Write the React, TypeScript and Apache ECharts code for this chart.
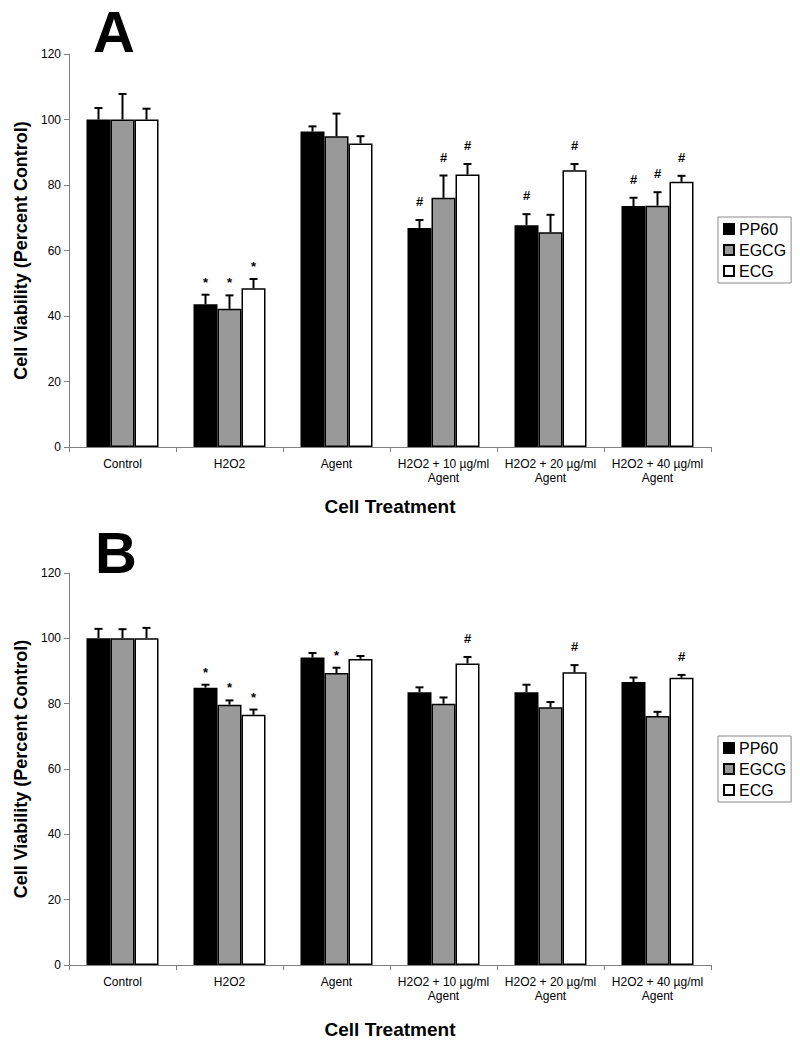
import React, { useEffect, useRef } from "react";
import * as echarts from "echarts";

const categories = [
  "Control",
  "H2O2",
  "Agent",
  "H2O2 + 10 µg/ml\nAgent",
  "H2O2 + 20 µg/ml\nAgent",
  "H2O2 + 40 µg/ml\nAgent",
];
const seriesNames = ["PP60", "EGCG", "ECG"];
const yTicks = [0, 20, 40, 60, 80, 100, 120];

// Panel A
const aPP60 = [100, 43.6, 96.3, 66.9, 67.7, 73.6];
const aPP60Err = [3.5, 2.9, 1.6, 2.4, 3.4, 2.5];
const aPP60Marks = ["", "*", "", "#", "#", "#"];
const aEGCG = [100, 42.2, 94.9, 76.1, 65.6, 73.7];
const aEGCGErr = [7.8, 4.1, 6.9, 6.8, 5.3, 4.1];
const aEGCGMarks = ["", "*", "", "#", "", "#"];
const aECG = [100, 48.5, 92.7, 83.2, 84.5, 81.0];
const aECGErr = [3.3, 2.8, 2.2, 3.2, 1.9, 1.8];
const aECGMarks = ["", "*", "", "#", "#", "#"];

// Panel B
const bPP60 = [100, 84.9, 94.1, 83.5, 83.5, 86.6];
const bPP60Err = [2.9, 0.9, 1.4, 1.5, 2.3, 1.4];
const bPP60Marks = ["", "*", "", "", "", ""];
const bEGCG = [100, 79.7, 89.4, 80.0, 78.9, 76.2];
const bEGCGErr = [2.8, 1.3, 1.6, 1.9, 1.6, 1.3];
const bEGCGMarks = ["", "*", "*", "", "", ""];
const bECG = [100, 76.6, 93.7, 92.3, 89.6, 87.9];
const bECGErr = [3.2, 1.6, 0.9, 2.0, 2.2, 0.9];
const bECGMarks = ["", "*", "", "#", "#", "#"];

const FONT = "'Liberation Sans', Arial, sans-serif";
const barColors = ["#000000", "#999999", "#ffffff"];
const CAT_GAP = 0.327;

export default function App() {
  const ref = useRef<HTMLDivElement>(null);

  useEffect(() => {
    document.body.style.margin = "0";
    const chart = echarts.init(ref.current!, null, { renderer: "svg" });

    const panels = [
      { vals: [aPP60, aEGCG, aECG], errs: [aPP60Err, aEGCGErr, aECGErr], marks: [aPP60Marks, aEGCGMarks, aECGMarks] },
      { vals: [bPP60, bEGCG, bECG], errs: [bPP60Err, bEGCGErr, bECGErr], marks: [bPP60Marks, bEGCGMarks, bECGMarks] },
    ];

    const series: any[] = [];
    panels.forEach((p, gi) => {
      seriesNames.forEach((name, si) => {
        series.push({
          type: "bar",
          name,
          xAxisIndex: gi,
          yAxisIndex: gi,
          data: p.vals[si],
          barGap: "0%",
          barCategoryGap: CAT_GAP * 100 + "%",
          itemStyle: { color: barColors[si], borderColor: "#000", borderWidth: 1.5 },
          emphasis: { disabled: true },
        });
      });
    });
    panels.forEach((p, gi) => {
      seriesNames.forEach((name, si) => {
        const marks = p.marks[si];
        series.push({
          type: "custom",
          name: name + "-err",
          xAxisIndex: gi,
          yAxisIndex: gi,
          z: 5,
          clip: false,
          encode: { x: 0, y: 1 },
          data: p.vals[si].map((v, i) => [i, v, v + p.errs[si][i]]),
          renderItem: (params: any, api: any) => {
            const ci = api.value(0);
            const v = api.value(1);
            const t = api.value(2);
            const base = api.coord([ci, v]);
            const top = api.coord([ci, t]);
            const band = api.size([1, 0])[0];
            const bw = (band * (1 - CAT_GAP)) / 3;
            const x = base[0] + (si - 1) * bw;
            const mark = marks[params.dataIndex];
            const children: any[] = [
              { type: "line", shape: { x1: x, y1: base[1], x2: x, y2: top[1] }, style: { stroke: "#000", lineWidth: 2 } },
              { type: "line", shape: { x1: x - 4, y1: top[1], x2: x + 4, y2: top[1] }, style: { stroke: "#000", lineWidth: 2 } },
            ];
            if (mark) {
              children.push({
                type: "text",
                style: {
                  text: mark,
                  x,
                  y: top[1] - (mark === "#" ? 12 : 6),
                  align: "center",
                  verticalAlign: "bottom",
                  font: "bold 13px " + FONT,
                  fill: "#000",
                },
              });
            }
            return { type: "group", children };
          },
        });
      });
    });

    const grids = [
      { left: 69, width: 642, top: 54, height: 393 },
      { left: 69, width: 642, top: 573, height: 392 },
    ];

    const xAxes = grids.map((_, gi) => ({
      type: "category",
      gridIndex: gi,
      data: categories,
      name: "Cell Treatment",
      nameLocation: "middle",
      nameGap: gi === 0 ? 50 : 55,
      nameTextStyle: { fontFamily: FONT, fontWeight: "bold", fontSize: 19, color: "#000" },
      axisLine: { lineStyle: { color: "#808080", width: 1 } },
      axisTick: { show: true, length: 5, lineStyle: { color: "#808080" } },
      axisLabel: { fontFamily: FONT, fontSize: 12, lineHeight: 14, color: "#000", margin: 10, interval: 0 },
    }));
    const yAxes = grids.map((_, gi) => ({
      type: "value",
      gridIndex: gi,
      min: yTicks[0],
      max: yTicks[yTicks.length - 1],
      interval: 20,
      name: "Cell Viability (Percent Control)",
      nameLocation: "middle",
      nameRotate: 90,
      nameGap: 38,
      nameTextStyle: { fontFamily: FONT, fontWeight: "bold", fontSize: 18, color: "#000" },
      axisLine: { show: true, lineStyle: { color: "#808080", width: 1 } },
      axisTick: { show: true, length: 5, lineStyle: { color: "#808080" } },
      axisLabel: { fontFamily: FONT, fontSize: 12, color: "#000", margin: 8 },
      splitLine: { show: false },
    }));

    const legends = [217, 736].map((top) => ({
      orient: "vertical",
      left: 718,
      top,
      data: seriesNames,
      icon: "rect",
      itemWidth: 10,
      itemHeight: 10,
      itemGap: 5,
      padding: [4, 5, 4, 5],
      borderColor: "#888",
      borderWidth: 1,
      selectedMode: false,
      textStyle: { fontFamily: FONT, fontSize: 16, color: "#000" },
    }));

    chart.setOption({
      animation: false,
      backgroundColor: "#fff",
      grid: grids,
      xAxis: xAxes,
      yAxis: yAxes,
      legend: legends,
      graphic: [
        { type: "text", left: 93, top: 2, style: { text: "A", font: "bold 58px " + FONT, fill: "#000" } },
        { type: "text", left: 95, top: 523, style: { text: "B", font: "bold 58px " + FONT, fill: "#000" } },
      ],
      series,
    });

    return () => chart.dispose();
  }, []);

  return <div ref={ref} style={{ width: 800, height: 1050 }} />;
}
